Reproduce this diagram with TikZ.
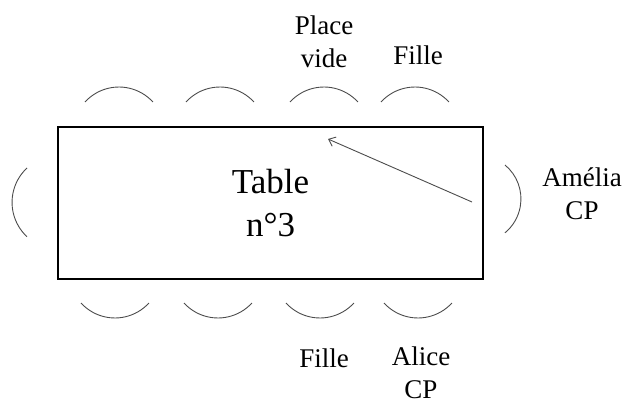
\documentclass[tikz,border=0pt]{standalone}
\usepackage{fontspec}
\setmainfont{Liberation Serif}
\usetikzlibrary{arrows.meta}

\tikzset{
  seat/.style={draw=black!70,line width=0.9pt},
  guest/.style={align=center,font=\fontsize{27}{33}\selectfont},
}

\begin{document}
\begin{tikzpicture}[x=1pt,y=-1pt]
\useasboundingbox (0,0) rectangle (622,401);
\node[draw,line width=2.5pt,minimum width=425,minimum height=152,align=center,font=\fontsize{35}{43}\selectfont] (t3) at (270.5,203) {Table\\n°3};
\foreach \x in {119,220,324,415}
  \draw[seat] (\x-34,102) arc[start angle=222.4,end angle=317.6,radius=46];
\foreach \x in {115,218,320,418}
  \draw[seat] (\x-34,303) arc[start angle=137.6,end angle=42.4,radius=46];
\draw[seat] (27,168) arc[start angle=227,end angle=133,radius=47];
\draw[seat] (505,165) arc[start angle=-50.4,end angle=50.4,radius=44];
\node[guest] (vide) at (324,42) {Place\\vide};
\node[guest,anchor=base] (fille1) at (418,65) {Fille};
\node[guest,anchor=base] (fille2) at (324,367) {Fille};
\node[guest] (alice) at (421,373) {Alice\\CP};
\node[guest] (amelia) at (582,194) {Amélia\\CP};
\coordinate (from) at (472,202);
\coordinate (to) at (328,139);
\draw[seat,-{Straight Barb[length=6pt,width=10pt]}] (from) -- (to);
\end{tikzpicture}
\end{document}
